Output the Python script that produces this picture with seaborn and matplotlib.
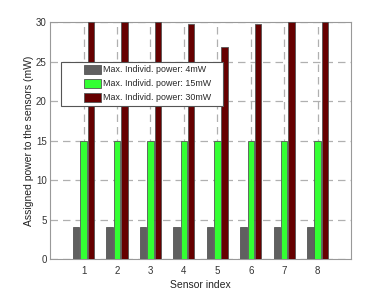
import numpy as np
import pandas as pd
import seaborn as sns
import matplotlib.pyplot as plt
from matplotlib.patches import Rectangle

sensors = [1, 2, 3, 4, 5, 6, 7, 8]
power_4mw = [4, 4, 4, 4, 4, 4, 4, 4]
power_15mw = [15, 15, 15, 15, 15, 15, 15, 15]
power_30mw = [30, 30, 30, 29.8, 26.8, 29.7, 30, 30]
series_names = ["Max. Individ. power: 4mW",
                "Max. Individ. power: 15mW",
                "Max. Individ. power: 30mW"]
palette = ["#606060", "#33ff33", "#660000"]

df = pd.DataFrame({
    "sensor": sensors * 3,
    "power": power_4mw + power_15mw + power_30mw,
    "series": np.repeat(series_names, len(sensors)),
})

sns.set_style("white")
plt.rcParams["font.family"] = ["Liberation Sans", "DejaVu Sans"]
fig, ax = plt.subplots(figsize=(3.88, 2.91), dpi=100)
fig.subplots_adjust(left=0.129, right=0.905, top=0.924, bottom=0.11)

sns.barplot(data=df, x="sensor", y="power", hue="series", palette=palette,
            width=0.66, gap=0.12, edgecolor="#555555", linewidth=0.6,
            saturation=1, ax=ax, zorder=3)

ax.set_xlim(-1, 8)
ax.set_ylim(0, 30)
ax.set_yticks([0, 5, 10, 15, 20, 25, 30])
ax.set_xticks(range(8))
ax.set_xticklabels([str(s) for s in sensors])
ax.grid(True, linestyle=(0, (6, 4)), color="#b0b0b0", linewidth=0.9, zorder=0)
ax.set_axisbelow(True)
for s in ax.spines.values():
    s.set_color("#999999")
    s.set_linewidth(0.8)
ax.tick_params(axis="y", labelsize=7, colors="#333333", length=0, pad=2.5)
ax.tick_params(axis="x", labelsize=7, colors="#333333", length=0, pad=5)
ax.set_xlabel("Sensor index", fontsize=7.5, color="#222222", labelpad=3)
ax.set_ylabel("Assigned power to the sensors (mW)", fontsize=7.5, color="#222222", labelpad=1.5)

# matlab-style legend box: wide white frame, entries indented
ax.add_patch(Rectangle((0.037, 0.646), 0.538, 0.185, transform=ax.transAxes,
                       facecolor="white", edgecolor="#555555", linewidth=0.8,
                       zorder=10))
leg = ax.legend(loc="upper left", bbox_to_anchor=(0.105, 0.83), fontsize=6.4,
                frameon=False, borderpad=0.3,
                handlelength=1.85, handleheight=1.15, handletextpad=0.2,
                labelspacing=0.5, borderaxespad=0)
leg.set_zorder(11)

fig.savefig("out.png", dpi=100)
